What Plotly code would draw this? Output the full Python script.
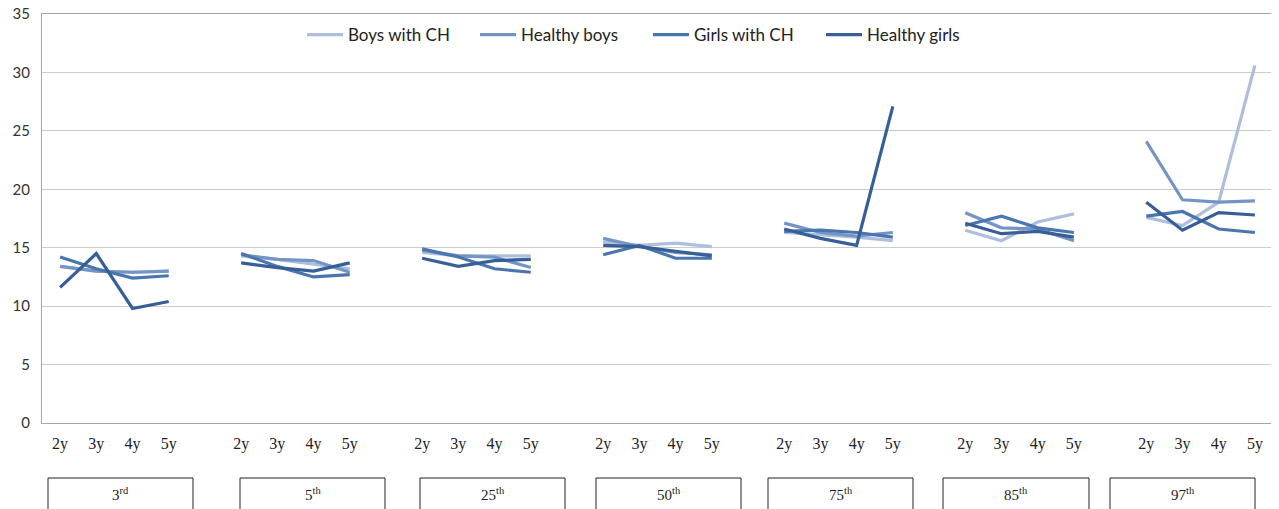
import plotly.graph_objects as go

ages = ["2y", "3y", "4y", "5y"]
percentiles = ["3<sup>rd</sup>", "5<sup>th</sup>", "25<sup>th</sup>", "50<sup>th</sup>",
               "75<sup>th</sup>", "85<sup>th</sup>", "97<sup>th</sup>"]
series_names = ["Boys with CH", "Healthy boys", "Girls with CH", "Healthy girls"]
colors = ["#adbfdc", "#7594c6", "#4a76b0", "#365f98"]

boys_ch = [13.4, 13.0, 12.9, 13.0,
           14.3, 14.0, 13.6, 13.2,
           14.6, 14.3, 14.3, 14.3,
           15.5, 15.2, 15.4, 15.1,
           16.3, 16.1, 15.9, 15.6,
           16.5, 15.6, 17.2, 17.9,
           17.6, 16.9, 18.9, 30.6]
healthy_boys = [13.4, 13.0, 12.9, 13.0,
                14.4, 14.0, 13.9, 12.9,
                14.8, 14.3, 14.2, 13.3,
                15.8, 15.1, 14.6, 14.4,
                17.1, 16.3, 16.0, 16.3,
                18.0, 16.7, 16.6, 15.6,
                24.1, 19.1, 18.9, 19.0]
girls_ch = [14.2, 13.2, 12.4, 12.6,
            14.5, 13.4, 12.5, 12.7,
            14.9, 14.2, 13.2, 12.9,
            14.4, 15.2, 14.1, 14.1,
            16.4, 16.5, 16.3, 15.9,
            16.9, 17.7, 16.7, 16.3,
            17.7, 18.1, 16.6, 16.3]
healthy_girls = [11.6, 14.5, 9.8, 10.4,
                 13.7, 13.3, 13.0, 13.7,
                 14.1, 13.4, 13.9, 14.0,
                 15.2, 15.1, 14.7, 14.3,
                 16.6, 15.8, 15.2, 27.1,
                 17.1, 16.2, 16.4, 15.9,
                 18.9, 16.5, 18.0, 17.8]
all_series = [boys_ch, healthy_boys, girls_ch, healthy_girls]

# category positions: 4 ages per group plus a blank slot between groups
xs, ticktext = [], []
for g in range(len(percentiles)):
    for a in range(len(ages)):
        xs.append(g * 5 + a)
        ticktext.append(ages[a])


def with_gaps(vals):
    X, Y = [], []
    for g in range(len(percentiles)):
        for a in range(len(ages)):
            X.append(g * 5 + a)
            Y.append(vals[g * 4 + a])
        X.append(None)
        Y.append(None)
    return X, Y


fig = go.Figure()
for name, vals, col in zip(series_names, all_series, colors):
    X, Y = with_gaps(vals)
    fig.add_trace(go.Scatter(x=X, y=Y, mode="lines", name=name,
                             line=dict(color=col, width=3.2), connectgaps=False))

# page body has an 8px margin; figure is sized/offset so the plot lands at
# screen px: left 42, right 1273, top 14, bottom 423
OFF = 8
W, H = 1279 - OFF, 509 - OFF
L, R, T, B = 42 - OFF, 6, 14 - OFF, 509 - 423
pw, ph = W - L - R, H - T - B
bottom_scr = 423


def ypaper(py):
    return (bottom_scr - py) / ph


def xpaper(px):
    return (px - 42) / pw


shapes = []
annotations = []
box_px = [(48, 193), (240, 385), (420, 565), (596, 741), (768, 913), (943, 1089), (1110, 1255)]
for (x0, x1), lab in zip(box_px, percentiles):
    px0 = xpaper(x0)
    px1 = xpaper(x1)
    shapes.append(dict(type="rect", xref="paper", yref="paper", x0=px0, x1=px1,
                       y0=ypaper(514), y1=ypaper(478), line=dict(color="#222222", width=1)))
    annotations.append(dict(xref="paper", yref="paper", x=(px0 + px1) / 2,
                            y=ypaper(494), text=lab, showarrow=False,
                            font=dict(family="Liberation Serif", size=15, color="#222222"),
                            xanchor="center", yanchor="middle"))

fig.update_layout(
    width=W, height=H,
    margin=dict(l=L, r=R, t=T, b=B, autoexpand=False),
    paper_bgcolor="white", plot_bgcolor="white",
    font=dict(family="Lato", size=15, color="#333333"),
    showlegend=True,
    legend=dict(orientation="h", x=xpaper(302), xanchor="left", y=ypaper(17), yanchor="top",
                bgcolor="rgba(0,0,0,0)", font=dict(family="Lato", size=17, color="#222222"),
                itemwidth=36, entrywidth=122, tracegroupgap=0),
    xaxis=dict(range=[-0.5, 33.5], tickmode="array", tickvals=xs, ticktext=ticktext,
               showgrid=False, zeroline=False, showline=True, linecolor="#a6a6a6",
               mirror=True, ticks="", automargin=False, ticklabelstandoff=6,
               tickfont=dict(family="Liberation Serif", size=16, color="#222222")),
    yaxis=dict(range=[0, 35], dtick=5, showgrid=True, gridcolor="#cccccc", gridwidth=1.3,
               zeroline=False, showline=True, linecolor="#a6a6a6", mirror=True, ticks="",
               automargin=False, ticklabelstandoff=8, ticklabeloverflow="allow",
               tickfont=dict(family="Lato", size=15, color="#333333")),
    shapes=shapes, annotations=annotations,
)

fig.write_html("out.html")
